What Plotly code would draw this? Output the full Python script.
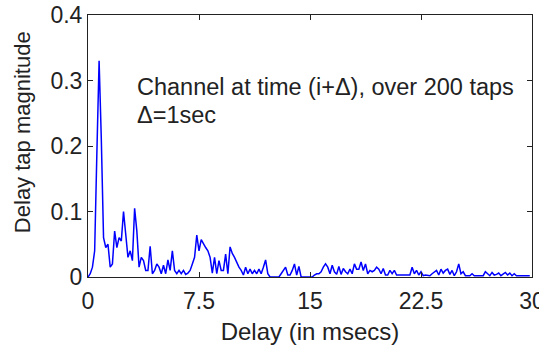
import plotly.graph_objects as go

tap_spacing_ms = 0.15
tap_magnitude = [
    0.0, 0.005, 0.015, 0.04, 0.19, 0.33, 0.21, 0.06, 0.045, 0.05,
    0.015, 0.02, 0.07, 0.045, 0.06, 0.055, 0.1, 0.06, 0.03, 0.04,
    0.025, 0.105, 0.07, 0.015, 0.03, 0.025, 0.01, 0.01, 0.047, 0.005,
    0.01, 0.02, 0.015, 0.005, 0.018, 0.005, 0.026, 0.01, 0.04, 0.01,
    0.005, 0.01, 0.005, 0.01, 0.004, 0.006, 0.01, 0.02, 0.03, 0.064,
    0.04, 0.057, 0.05, 0.045, 0.04, 0.03, 0.006, 0.03, 0.005, 0.025,
    0.01, 0.01, 0.035, 0.005, 0.046, 0.036, 0.03, 0.022, 0.015, 0.01,
    0.003, 0.015, 0.005, 0.012, 0.005, 0.01, 0.005, 0.012, 0.005, 0.015,
    0.026, 0.005, 0.0, 0.0, 0.0, 0.0, 0.0, 0.005, 0.011, 0.015,
    0.003, 0.003, 0.01, 0.02, 0.003, 0.016, 0.0, 0.0, 0.0, 0.0,
    0.0, 0.0, 0.003, 0.005, 0.005, 0.008, 0.015, 0.02, 0.015, 0.005,
    0.018, 0.008, 0.004, 0.016, 0.004, 0.013, 0.008, 0.005, 0.012, 0.005,
    0.02, 0.012, 0.012, 0.023, 0.01, 0.02, 0.005, 0.01, 0.008, 0.01,
    0.015, 0.012, 0.005, 0.013, 0.003, 0.003, 0.01, 0.005, 0.01, 0.003,
    0.003, 0.003, 0.003, 0.003, 0.003, 0.003, 0.015, 0.005, 0.01, 0.003,
    0.008, 0.002, 0.003, 0.003, 0.002, 0.005, 0.007, 0.01, 0.003, 0.012,
    0.006, 0.01, 0.012, 0.004, 0.01, 0.002, 0.008, 0.02, 0.005, 0.008,
    0.002, 0.002, 0.002, 0.005, 0.002, 0.002, 0.002, 0.002, 0.002, 0.008,
    0.005, 0.002, 0.007, 0.003, 0.004, 0.006, 0.002, 0.005, 0.007, 0.003,
    0.006, 0.002, 0.005, 0.002, 0.002, 0.003, 0.002, 0.002, 0.002, 0.002,
]
delay_ms = [i * tap_spacing_ms for i in range(len(tap_magnitude))]

x_ticks = [0, 7.5, 15, 22.5, 30]
x_tick_labels = ["0", "7.5", "15", "22.5", "30"]
y_ticks = [0, 0.1, 0.2, 0.3, 0.4]
y_tick_labels = ["0", "0.1", "0.2", "0.3", "0.4"]

FONT = "Liberation Sans, Arial, sans-serif"
TXT = "#222222"

fig = go.Figure()
fig.add_trace(go.Scatter(
    x=delay_ms, y=tap_magnitude, mode="lines",
    line=dict(color="#0000ff", width=1.5),
    showlegend=False,
))

axis_common = dict(
    showline=True, linecolor="#222222", linewidth=1, mirror="ticks",
    ticks="inside", ticklen=5, tickcolor="#222222",
    showgrid=False, zeroline=False, automargin=False,
    tickfont=dict(family=FONT, size=23, color=TXT),
)

fig.update_layout(
    width=539, height=348,
    margin=dict(l=88, r=7, t=15, b=71),
    paper_bgcolor="white", plot_bgcolor="white",
    font=dict(family=FONT, color=TXT),
    xaxis=dict(
        range=[0, 30], tickvals=x_ticks, ticktext=x_tick_labels,
        ticklabeloverflow="allow", ticklabelstandoff=3,
        title=dict(text="Delay (in msecs)", font=dict(family=FONT, size=24, color=TXT), standoff=10),
        **axis_common,
    ),
    yaxis=dict(
        range=[0, 0.4], tickvals=y_ticks, ticktext=y_tick_labels,
        **axis_common,
    ),
    annotations=[
        dict(x=-0.1486, y=0.553, xref="paper", yref="paper", xanchor="center", yanchor="middle",
             text="Delay tap magnitude", textangle=-90, showarrow=False,
             font=dict(family=FONT, size=22, color=TXT)),
        dict(x=3.2, y=0.29, xref="x", yref="y", xanchor="left", yanchor="middle",
             text="Channel at time (i+Δ), over 200 taps", showarrow=False,
             font=dict(family=FONT, size=23.5, color=TXT)),
        dict(x=3.2, y=0.248, xref="x", yref="y", xanchor="left", yanchor="middle",
             text="Δ=1sec", showarrow=False,
             font=dict(family=FONT, size=23.5, color=TXT)),
    ],
)

fig.write_html("out.html")
